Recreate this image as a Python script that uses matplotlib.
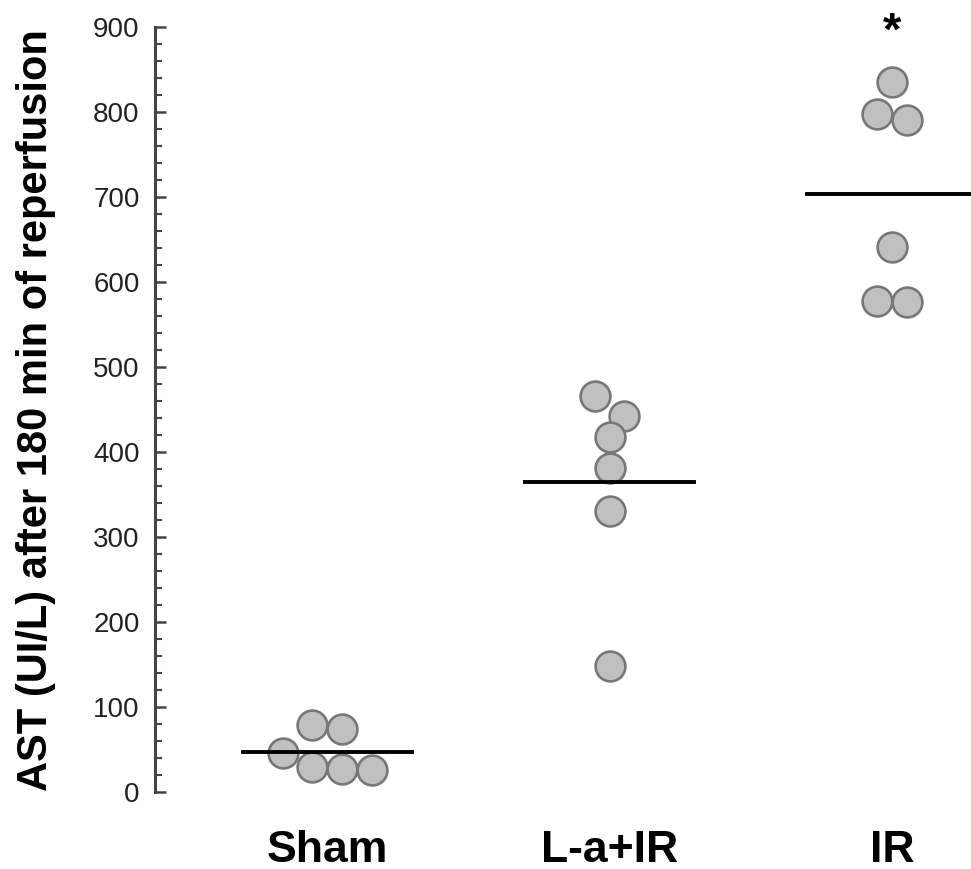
import numpy as np
import matplotlib
matplotlib.use("Agg")
import matplotlib.pyplot as plt
from matplotlib.ticker import MultipleLocator

groups = ["Sham", "L-a+IR", "IR"]
sham = [79, 74, 46, 29, 27, 26]
la_ir = [466, 442, 418, 381, 331, 148]
ir = [835, 798, 791, 641, 578, 576]
# horizontal swarm offsets, in marker diameters
sham_off = [-0.5, 0.5, -1.5, -0.5, 0.5, 1.5]
la_ir_off = [-0.5, 0.5, 0, 0, 0, 0]
ir_off = [0, -0.5, 0.5, 0, -0.5, 0.5]
star_group = "IR"

values = [sham, la_ir, ir]
offsets = [sham_off, la_ir_off, ir_off]

FONT = ["Liberation Sans", "DejaVu Sans"]

fig = plt.figure(figsize=(9.71, 8.69), dpi=100)
ax = fig.add_axes([155/971, 77/869, 816/971, 765/869])

diam = 0.105
half = 0.30
for i, (vals, offs) in enumerate(zip(values, offsets)):
    x = i + 1 + np.array(offs) * diam
    ax.scatter(x, vals, s=460, facecolor="#c0c0c0", edgecolor="#777777",
               linewidth=1.9, zorder=3, clip_on=False)
    m = np.mean(vals)
    ax.plot([i + 1 - half, i + 1 + half], [m, m], color="black", lw=2.8, zorder=4)

ax.text(groups.index(star_group) + 1, 893, "*", ha="center", va="center",
        fontsize=34, fontweight="bold", family=FONT)

ax.set_xlim(0.39, 3.28)
ax.set_ylim(0, 900)
for s in ["top", "right", "bottom"]:
    ax.spines[s].set_visible(False)
ax.spines["left"].set_color("#444444")
ax.spines["left"].set_linewidth(2.2)

ax.yaxis.set_major_locator(MultipleLocator(100))
ax.yaxis.set_minor_locator(MultipleLocator(20))
ax.tick_params(axis="y", which="major", direction="in", length=8, width=1.8,
               color="#444444", pad=11, labelsize=20, labelcolor="#222222")
ax.tick_params(axis="y", which="minor", direction="in", length=5, width=1.5,
               color="#444444")
for lab in ax.get_yticklabels():
    lab.set_family(FONT)

ax.set_xticks([1, 2, 3])
ax.set_xticklabels(groups, fontsize=32, fontweight="bold", family=FONT)
ax.tick_params(axis="x", length=0, pad=27)

fig.text(36/971, 1 - 410/869, "AST (UI/L) after 180 min of reperfusion",
         rotation=90, ha="center", va="center", fontsize=30, fontweight="bold",
         family=FONT)

fig.savefig("out.png", dpi=100)
